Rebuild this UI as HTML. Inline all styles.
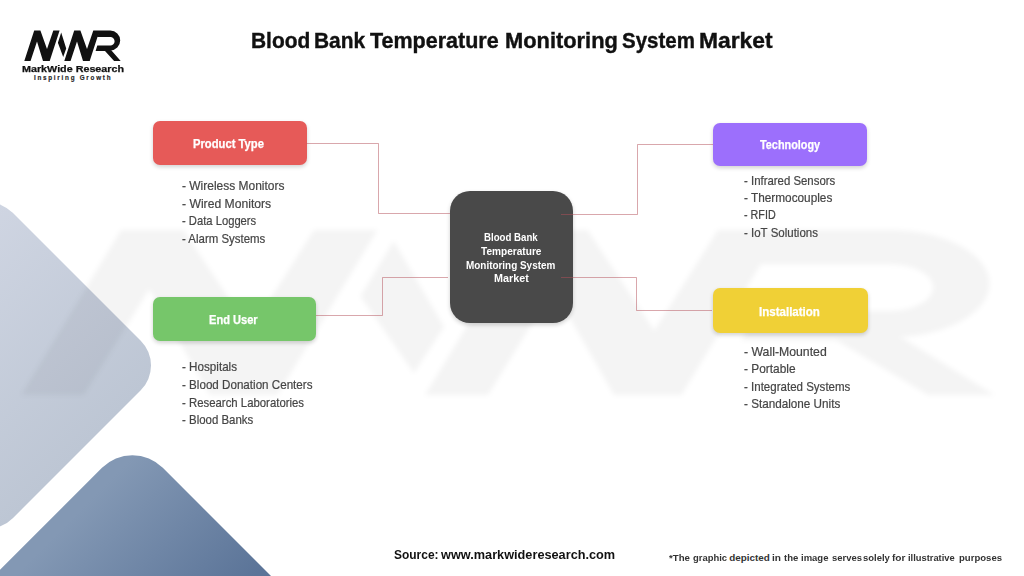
<!DOCTYPE html>
<html><head><meta charset="utf-8"><title>Blood Bank Temperature Monitoring System Market</title><style>
html,body{margin:0;padding:0}
body{width:1024px;height:576px;overflow:hidden;background:#fff;position:relative;font-family:"Liberation Sans",sans-serif}
svg.bg{position:absolute;left:0;top:0}
.t{position:absolute;white-space:nowrap;transform-origin:0 0}
.tt{font-weight:700;font-size:22.6px;line-height:22.6px;color:#111}
.lb{font-weight:700;font-size:11.9px;line-height:11.9px;color:#fff}
.ct{font-weight:700;font-size:10.2px;line-height:10.2px;color:#fff}
.li{font-weight:400;font-size:12.1px;line-height:12.1px;color:#454545}
.sr{font-weight:700;font-size:13.6px;line-height:13.6px;color:#111}
.dc{font-weight:700;font-size:9.9px;line-height:9.9px;color:#333}
.li{-webkit-text-stroke:0.2px #454545}
.tt{-webkit-text-stroke:0.4px #111}
.lb{-webkit-text-stroke:0.25px #fff}
.box{position:absolute;border-radius:7px;box-shadow:0 2px 4px rgba(0,0,0,0.18)}
.lg1{position:absolute;white-space:nowrap;transform-origin:0 0;font-weight:700;color:#111}
</style></head><body>
<svg class="bg" width="1024" height="576" viewBox="0 0 1024 576">
<defs>
<linearGradient id="gl" x1="100" y1="100" x2="265" y2="265" gradientUnits="userSpaceOnUse">
<stop offset="0" stop-color="#cfd5e2"/><stop offset="1" stop-color="#bdc6d4"/></linearGradient>
<linearGradient id="gd" x1="295" y1="295" x2="415" y2="415" gradientUnits="userSpaceOnUse">
<stop offset="0" stop-color="#8398b4"/><stop offset="1" stop-color="#5b7498"/></linearGradient>
<filter id="bl" x="-5%" y="-5%" width="110%" height="110%"><feGaussianBlur stdDeviation="2.5"/></filter>
</defs>
<path d="M12.75,212.75 L140.75,340.75 A35,35 0 0 1 140.75,390.25 L12.75,518.25 A35,35 0 0 1 -36.75,518.25 L-164.75,390.25 A35,35 0 0 1 -164.75,340.75 L-36.75,212.75 A35,35 0 0 1 12.75,212.75 Z" fill="url(#gl)"/>
<path d="M162.81,467.81 L351.99,656.99 A43,43 0 0 1 351.99,717.81 L162.81,906.99 A43,43 0 0 1 101.99,906.99 L-87.19,717.81 A43,43 0 0 1 -87.19,656.99 L101.99,467.81 A43,43 0 0 1 162.81,467.81 Z" fill="url(#gd)"/>
<g fill="#000" fill-opacity="0.042" filter="url(#bl)"><path transform="translate(121 230) scale(10.1 5.43) translate(-34.2 -30.6)" d="M24.30,61.00 L34.20,30.60 L40.40,30.60 L47.00,49.10 L53.30,30.60 L59.60,30.60 L49.70,61.00 L43.00,61.00 L37.00,41.50 L30.55,61.00ZM64.30,61.00 L74.20,30.60 L80.40,30.60 L87.00,49.10 L93.30,30.60 L99.60,30.60 L89.70,61.00 L83.00,61.00 L77.00,41.50 L70.55,61.00ZM61.20,32.60 L66.20,48.40 L63.20,57.00 L57.90,42.80ZM99.6,30.6 H110.3 A9.9,9.9 0 0 1 110.3,50.4 L111.5,50.4 L120.7,61 L114.1,61 L105.0,50.9 L95.6,50.9 L97.3,45.5 H110.3 A4.3,4.3 0 0 0 110.3,36.9 H97.55 Z"/></g>
<g fill="#111"><path d="M24.30,61.00 L34.20,30.60 L40.40,30.60 L47.00,49.10 L53.30,30.60 L59.60,30.60 L49.70,61.00 L43.00,61.00 L37.00,41.50 L30.55,61.00ZM64.30,61.00 L74.20,30.60 L80.40,30.60 L87.00,49.10 L93.30,30.60 L99.60,30.60 L89.70,61.00 L83.00,61.00 L77.00,41.50 L70.55,61.00ZM61.20,32.60 L66.20,48.40 L63.20,57.00 L57.90,42.80ZM99.6,30.6 H110.3 A9.9,9.9 0 0 1 110.3,50.4 L111.5,50.4 L120.7,61 L114.1,61 L105.0,50.9 L95.6,50.9 L97.3,45.5 H110.3 A4.3,4.3 0 0 0 110.3,36.9 H97.55 Z"/></g>
</svg>
<div class="box" style="left:152.8px;top:121.3px;width:153.9px;height:43.7px;background:#e65a58"></div>
<div class="box" style="left:713.2px;top:122.7px;width:153.5px;height:43.1px;background:#9c6ffc"></div>
<div class="box" style="left:152.5px;top:296.7px;width:163.4px;height:44.3px;background:#76c66a"></div>
<div class="box" style="left:712.5px;top:288px;width:155px;height:45.3px;background:#f0d036"></div>
<div class="box" style="left:449.8px;top:191px;width:122.8px;height:132px;background:#494949;border-radius:20px"></div>
<svg class="bg" width="1024" height="576" viewBox="0 0 1024 576">
<g fill="none" stroke="rgba(180,80,90,0.5)" stroke-width="1">
<path d="M306.5,143.5 H378.5 V213.5 H450"/>
<path d="M561,214.5 H637.5 V144.5 H713"/>
<path d="M316,315.5 H382.5 V277.5 H448"/>
<path d="M561,277.5 H636.5 V310.5 H712"/>
</g>
</svg>
<div class="lg1" style="left:22.1px;top:65.43px;font-size:9.3px;line-height:9.3px;transform:scaleX(1.156);-webkit-text-stroke:0.25px #111">MarkWide Research</div>
<div class="lg1" style="left:33.9px;top:75.17px;font-size:6.3px;line-height:6.3px;letter-spacing:1.75px;color:#222;-webkit-text-stroke:0.15px #222">Inspiring Growth</div>
<div class="t tt" style="left:251.07px;top:29.62px;transform:scaleX(0.9258)">Blood</div>
<div class="t tt" style="left:314.18px;top:29.62px;transform:scaleX(0.9241)">Bank</div>
<div class="t tt" style="left:369.90px;top:29.62px;transform:scaleX(0.9519)">Temperature</div>
<div class="t tt" style="left:504.73px;top:29.62px;transform:scaleX(0.9670)">Monitoring</div>
<div class="t tt" style="left:622.49px;top:29.62px;transform:scaleX(0.9064)">System</div>
<div class="t tt" style="left:698.79px;top:29.62px;transform:scaleX(1.0111)">Market</div>
<div class="t lb" style="left:193.35px;top:138.93px;transform:scaleX(0.9453)">Product Type</div>
<div class="t lb" style="left:759.70px;top:139.93px;transform:scaleX(0.9136)">Technology</div>
<div class="t lb" style="left:209.17px;top:314.58px;transform:scaleX(0.9314)">End User</div>
<div class="t lb" style="left:759.43px;top:306.53px;transform:scaleX(0.9705)">Installation</div>
<div class="t ct" style="left:484.10px;top:233.07px;transform:scaleX(0.9491)">Blood Bank</div>
<div class="t ct" style="left:481.00px;top:246.87px;transform:scaleX(0.9918)">Temperature</div>
<div class="t ct" style="left:466.30px;top:260.77px;transform:scaleX(0.9739)">Monitoring System</div>
<div class="t ct" style="left:493.90px;top:273.97px;transform:scaleX(1.0576)">Market</div>
<div class="t li" style="left:181.90px;top:180.26px;transform:scaleX(0.9903)">- Wireless Monitors</div>
<div class="t li" style="left:181.90px;top:197.66px;transform:scaleX(1.0056)">- Wired Monitors</div>
<div class="t li" style="left:181.90px;top:215.16px;transform:scaleX(0.9275)">- Data Loggers</div>
<div class="t li" style="left:181.90px;top:232.86px;transform:scaleX(0.9466)">- Alarm Systems</div>
<div class="t li" style="left:744.10px;top:174.76px;transform:scaleX(0.9423)">- Infrared Sensors</div>
<div class="t li" style="left:744.10px;top:191.86px;transform:scaleX(0.9756)">- Thermocouples</div>
<div class="t li" style="left:744.10px;top:209.46px;transform:scaleX(0.8886)">- RFID</div>
<div class="t li" style="left:744.10px;top:226.96px;transform:scaleX(0.9513)">- IoT Solutions</div>
<div class="t li" style="left:181.80px;top:361.46px;transform:scaleX(0.9632)">- Hospitals</div>
<div class="t li" style="left:181.80px;top:379.06px;transform:scaleX(0.9610)">- Blood Donation Centers</div>
<div class="t li" style="left:181.80px;top:396.66px;transform:scaleX(0.9408)">- Research Laboratories</div>
<div class="t li" style="left:181.80px;top:413.76px;transform:scaleX(0.9467)">- Blood Banks</div>
<div class="t li" style="left:744.00px;top:345.96px;transform:scaleX(1.0148)">- Wall-Mounted</div>
<div class="t li" style="left:744.00px;top:363.16px;transform:scaleX(0.9827)">- Portable</div>
<div class="t li" style="left:744.00px;top:380.76px;transform:scaleX(0.9532)">- Integrated Systems</div>
<div class="t li" style="left:744.00px;top:397.96px;transform:scaleX(0.9677)">- Standalone Units</div>
<div class="t sr" style="left:393.50px;top:548.14px;transform:scaleX(0.8800)">Source:</div>
<div class="t sr" style="left:440.75px;top:548.14px;transform:scaleX(0.9358)">www.markwideresearch.com</div>
<div class="t dc" style="left:668.60px;top:553.12px;transform:scaleX(0.9773)">*The</div>
<div class="t dc" style="left:692.60px;top:553.12px;transform:scaleX(0.9556)">graphic</div>
<div class="t dc" style="left:729.20px;top:553.12px;transform:scaleX(1.0000)">depicted</div>
<div class="t dc" style="left:771.70px;top:553.12px;transform:scaleX(1.0222)">in</div>
<div class="t dc" style="left:783.60px;top:553.12px;transform:scaleX(0.9667)">the</div>
<div class="t dc" style="left:801.20px;top:553.12px;transform:scaleX(0.9621)">image</div>
<div class="t dc" style="left:831.70px;top:553.12px;transform:scaleX(0.9581)">serves</div>
<div class="t dc" style="left:863.30px;top:553.12px;transform:scaleX(0.9571)">solely</div>
<div class="t dc" style="left:892.40px;top:553.12px;transform:scaleX(1.0231)">for</div>
<div class="t dc" style="left:908.30px;top:553.12px;transform:scaleX(0.9440)">illustrative</div>
<div class="t dc" style="left:958.60px;top:553.12px;transform:scaleX(0.9682)">purposes</div>
</body></html>
